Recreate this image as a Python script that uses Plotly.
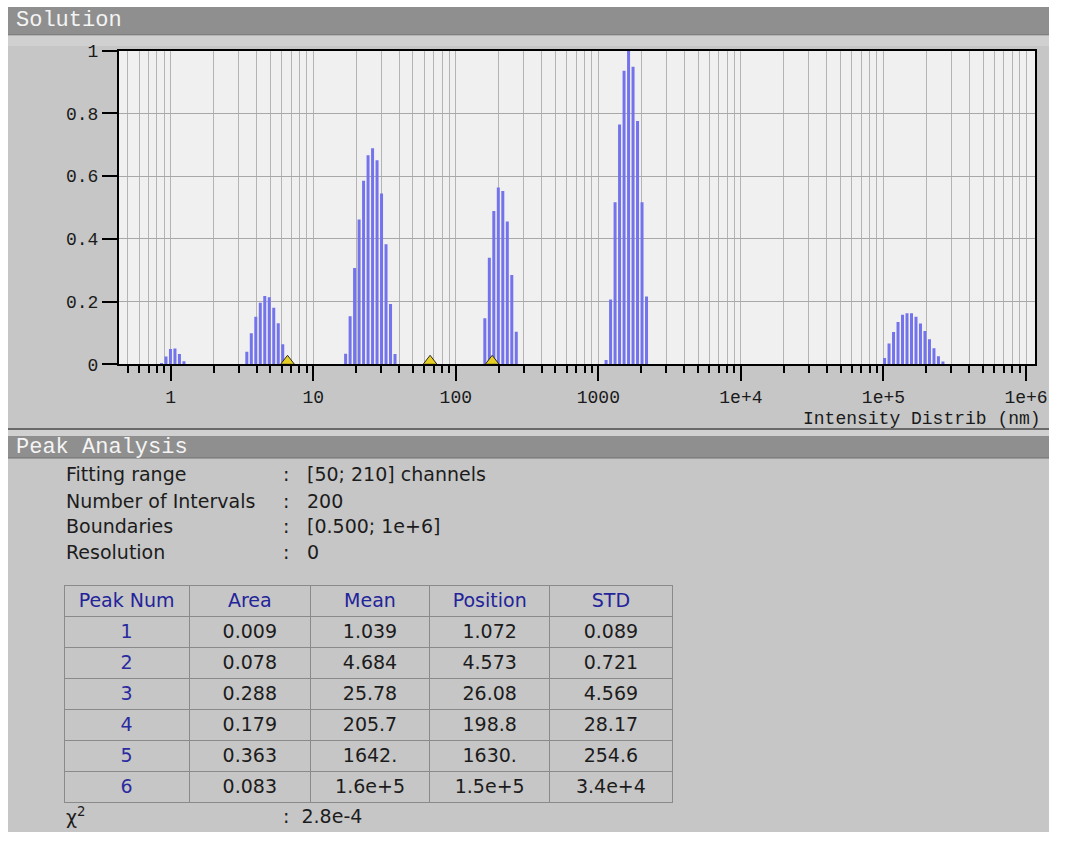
import numpy as np
import plotly.graph_objects as go

FW, FH = 1049, 832

# ---- size distribution (channel index -> normalised intensity) ----
n_intervals = 200
lo_bound, hi_bound = 0.5, 1e6

peak1_ch = [7, 8, 9, 10, 11, 12]
peak1_int = [0.004, 0.025, 0.049, 0.050, 0.033, 0.010]
peak2_ch = [26, 27, 28, 29, 30, 31, 32, 33, 34]
peak2_int = [0.040, 0.099, 0.152, 0.196, 0.218, 0.214, 0.180, 0.131, 0.064]
peak3_ch = [48, 49, 50, 51, 52, 53, 54, 55, 56, 57, 58, 59]
peak3_int = [0.034, 0.153, 0.307, 0.462, 0.585, 0.667, 0.689, 0.651, 0.545, 0.383, 0.192, 0.033]
peak4_ch = [79, 80, 81, 82, 83, 84, 85, 86]
peak4_int = [0.147, 0.340, 0.489, 0.564, 0.553, 0.455, 0.285, 0.104]
peak5_ch = [106, 107, 108, 109, 110, 111, 112, 113, 114, 115]
peak5_int = [0.014, 0.207, 0.517, 0.765, 0.936, 1.000, 0.949, 0.776, 0.517, 0.216]
peak6_ch = [168, 169, 170, 171, 172, 173, 174, 175, 176, 177, 178, 179, 180, 181]
peak6_int = [0.020, 0.066, 0.103, 0.135, 0.158, 0.163, 0.163, 0.152, 0.130, 0.106, 0.080, 0.051, 0.026, 0.009]

# fitting-range markers on the size axis (nm)
fit_marks = [6.6, 66.0, 180.0]

# ---- axis ticks ----
x_major = [1, 10, 100, 1000, 1e4, 1e5, 1e6]
x_major_text = ["1", "10", "100", "1000", "1e+4", "1e+5", "1e+6"]
y_major = [0, 0.2, 0.4, 0.6, 0.8, 1.0]
y_major_text = ["0", "0.2", "0.4", "0.6", "0.8", "1"]

# ---- peak analysis ----
param_names = ["Fitting range", "Number of Intervals", "Boundaries", "Resolution"]
param_values = ["[50; 210] channels", "200", "[0.500; 1e+6]", "0"]

tbl_header = ["Peak Num", "Area", "Mean", "Position", "STD"]
peak_num = ["1", "2", "3", "4", "5", "6"]
area = ["0.009", "0.078", "0.288", "0.179", "0.363", "0.083"]
mean = ["1.039", "4.684", "25.78", "205.7", "1642.", "1.6e+5"]
position = ["1.072", "4.573", "26.08", "198.8", "1630.", "1.5e+5"]
std = ["0.089", "0.721", "4.569", "28.17", "254.6", "3.4e+4"]
chi2_value = "2.8e-4"

# ---- colours / fonts ----
PANEL = "#c6c6c6"
BAR_HEAD = "#8f8f8f"
PLOT_BG = "#f0f0f0"
GRID = "#b4b4b4"
BAR_BLUE = "#7373ec"
MONO = "Liberation Mono"
SANS = "DejaVu Sans"
TXT = "#1c1c1c"


def px_x(p):
    """page x (px) -> paper fraction"""
    return p / FW


def px_y(p):
    """page y (px) -> paper fraction"""
    return 1 - p / FH


# plot-area geometry (page pixels)
plot_l, plot_r = 119, 1035
plot_t, plot_b = 50.7, 364.3
plot_h = plot_b - plot_t

all_ch = peak1_ch + peak2_ch + peak3_ch + peak4_ch + peak5_ch + peak6_ch
all_int = peak1_int + peak2_int + peak3_int + peak4_int + peak5_int + peak6_int
ratio = hi_bound / lo_bound
ch_size = [lo_bound * ratio ** ((c + 0.5) / n_intervals) for c in all_ch]

bx, by = [], []
for s, v in zip(ch_size, all_int):
    bx += [s, s, None]
    by += [0, v, None]

fig = go.Figure()
fig.add_trace(go.Scatter(
    x=bx, y=by, mode="lines",
    line=dict(color=BAR_BLUE, width=3),
    hoverinfo="skip", showlegend=False,
))

# triangles sit on the baseline: lift by the part of the marker below its centre
tri_size = 12
tri_lift = (tri_size / 4) / plot_h
fig.add_trace(go.Scatter(
    x=fit_marks, y=[tri_lift] * len(fit_marks), mode="markers",
    marker=dict(symbol="triangle-up", size=tri_size, color="#e6cf22",
                line=dict(color="#2a2a2a", width=1)),
    cliponaxis=False, hoverinfo="skip", showlegend=False,
))

# minor log ticks: 2..9 within each decade, plus 0.5..0.9 below 1
minor_vals = []
for d in range(-1, 7):
    for m in range(2, 10):
        v = m * 10.0 ** d
        if 0.45 < v < 1.1e6 and v not in x_major:
            minor_vals.append(v)

fig.add_trace(go.Table(
    domain=dict(x=[px_x(64), px_x(672)], y=[px_y(806), px_y(585)]),
    columnwidth=[125, 121, 119, 120, 122],
    header=dict(
        values=tbl_header, height=31, align="center",
        fill_color=PANEL, line=dict(color="#8a8a8a", width=1),
        font=dict(family=SANS, size=19, color="#23239a"),
    ),
    cells=dict(
        values=[peak_num, area, mean, position, std], height=31, align="center",
        fill_color=PANEL, line=dict(color="#8a8a8a", width=1),
        font=dict(family=SANS, size=19,
                  color=[["#2b2ba0"] * 6] + [[TXT] * 6] * 4),
    ),
))


def band(y0, y1, color, x0=8):
    return dict(type="rect", xref="paper", yref="paper", x0=px_x(x0), x1=1,
                y0=px_y(y1), y1=px_y(y0), fillcolor=color, line_width=0, layer="below")


def hline(y, color, w):
    return dict(type="line", xref="paper", yref="paper", x0=px_x(8), x1=1,
                y0=px_y(y), y1=px_y(y), line=dict(color=color, width=w), layer="below")


shapes = [
    # white window frame along the top and left edges
    band(0, 7, "white", x0=0),
    dict(type="rect", xref="paper", yref="paper", x0=0, x1=px_x(8), y0=0, y1=1,
         fillcolor="white", line_width=0, layer="below"),
    band(7, 35, BAR_HEAD),
    hline(35, "#6e6e6e", 1),
    band(35.5, 46, "#d0d0d0"),
    hline(429, "#6a6a6a", 2),
    band(430, 436, "#d0d0d0"),
    band(436, 458, BAR_HEAD),
    hline(458, "#6e6e6e", 1),
]


def label(text, x, y, font, anchor="left"):
    return dict(text=text, x=px_x(x), y=px_y(y), xref="paper", yref="paper",
                xanchor=anchor, yanchor="middle", showarrow=False, font=font)


head_font = dict(family=MONO, size=22, color="#f4f4f4")
body_font = dict(family=SANS, size=19, color=TXT)

annotations = [
    label("Solution", 14, 21, head_font),
    label("Peak Analysis", 14, 447, head_font),
    label("Intensity Distrib (nm)", 1043, 419, dict(family=MONO, size=18, color="#1a1a1a"), "right"),
]

row_y = [474, 500.5, 526, 552]
for name, val, yy in zip(param_names, param_values, row_y):
    annotations.append(label(name, 64, yy, body_font))
    annotations.append(label(":", 281, yy, body_font))
    annotations.append(label(val, 305, yy, body_font))

annotations.append(label("χ<sup>2</sup>", 64, 816, body_font))
annotations.append(label(":  " + chi2_value, 281, 816, body_font))

tick_font = dict(family=MONO, size=18, color="#1a1a1a")

fig.update_layout(
    width=FW, height=FH,
    margin=dict(l=0, r=0, t=0, b=0, autoexpand=False),
    paper_bgcolor=PANEL,
    plot_bgcolor=PLOT_BG,
    showlegend=False,
    shapes=shapes,
    annotations=annotations,
    xaxis=dict(
        type="log", automargin=False,
        domain=[px_x(plot_l), px_x(plot_r)],
        range=[np.log10(0.4338), np.log10(1.156e6)],
        tickmode="array", tickvals=x_major, ticktext=x_major_text,
        ticks="outside", ticklen=15, tickwidth=2, tickcolor="black",
        tickfont=tick_font,
        showgrid=True, gridcolor=GRID, gridwidth=1,
        showline=True, linecolor="black", linewidth=2, mirror=True,
        zeroline=False, fixedrange=True,
        minor=dict(tickmode="array", tickvals=minor_vals,
                   ticks="outside", ticklen=7, tickwidth=2, tickcolor="black",
                   showgrid=True, gridcolor=GRID, gridwidth=1),
    ),
    yaxis=dict(
        automargin=False,
        domain=[px_y(plot_b), px_y(plot_t)],
        range=[0, 1],
        tickmode="array", tickvals=y_major, ticktext=y_major_text,
        ticks="outside", ticklen=15, tickwidth=2, tickcolor="black",
        tickfont=tick_font,
        showgrid=True, gridcolor="#a8a8a8", gridwidth=1,
        showline=True, linecolor="black", linewidth=2, mirror=True,
        zeroline=False, fixedrange=True,
    ),
)

fig.write_html("out.html")
